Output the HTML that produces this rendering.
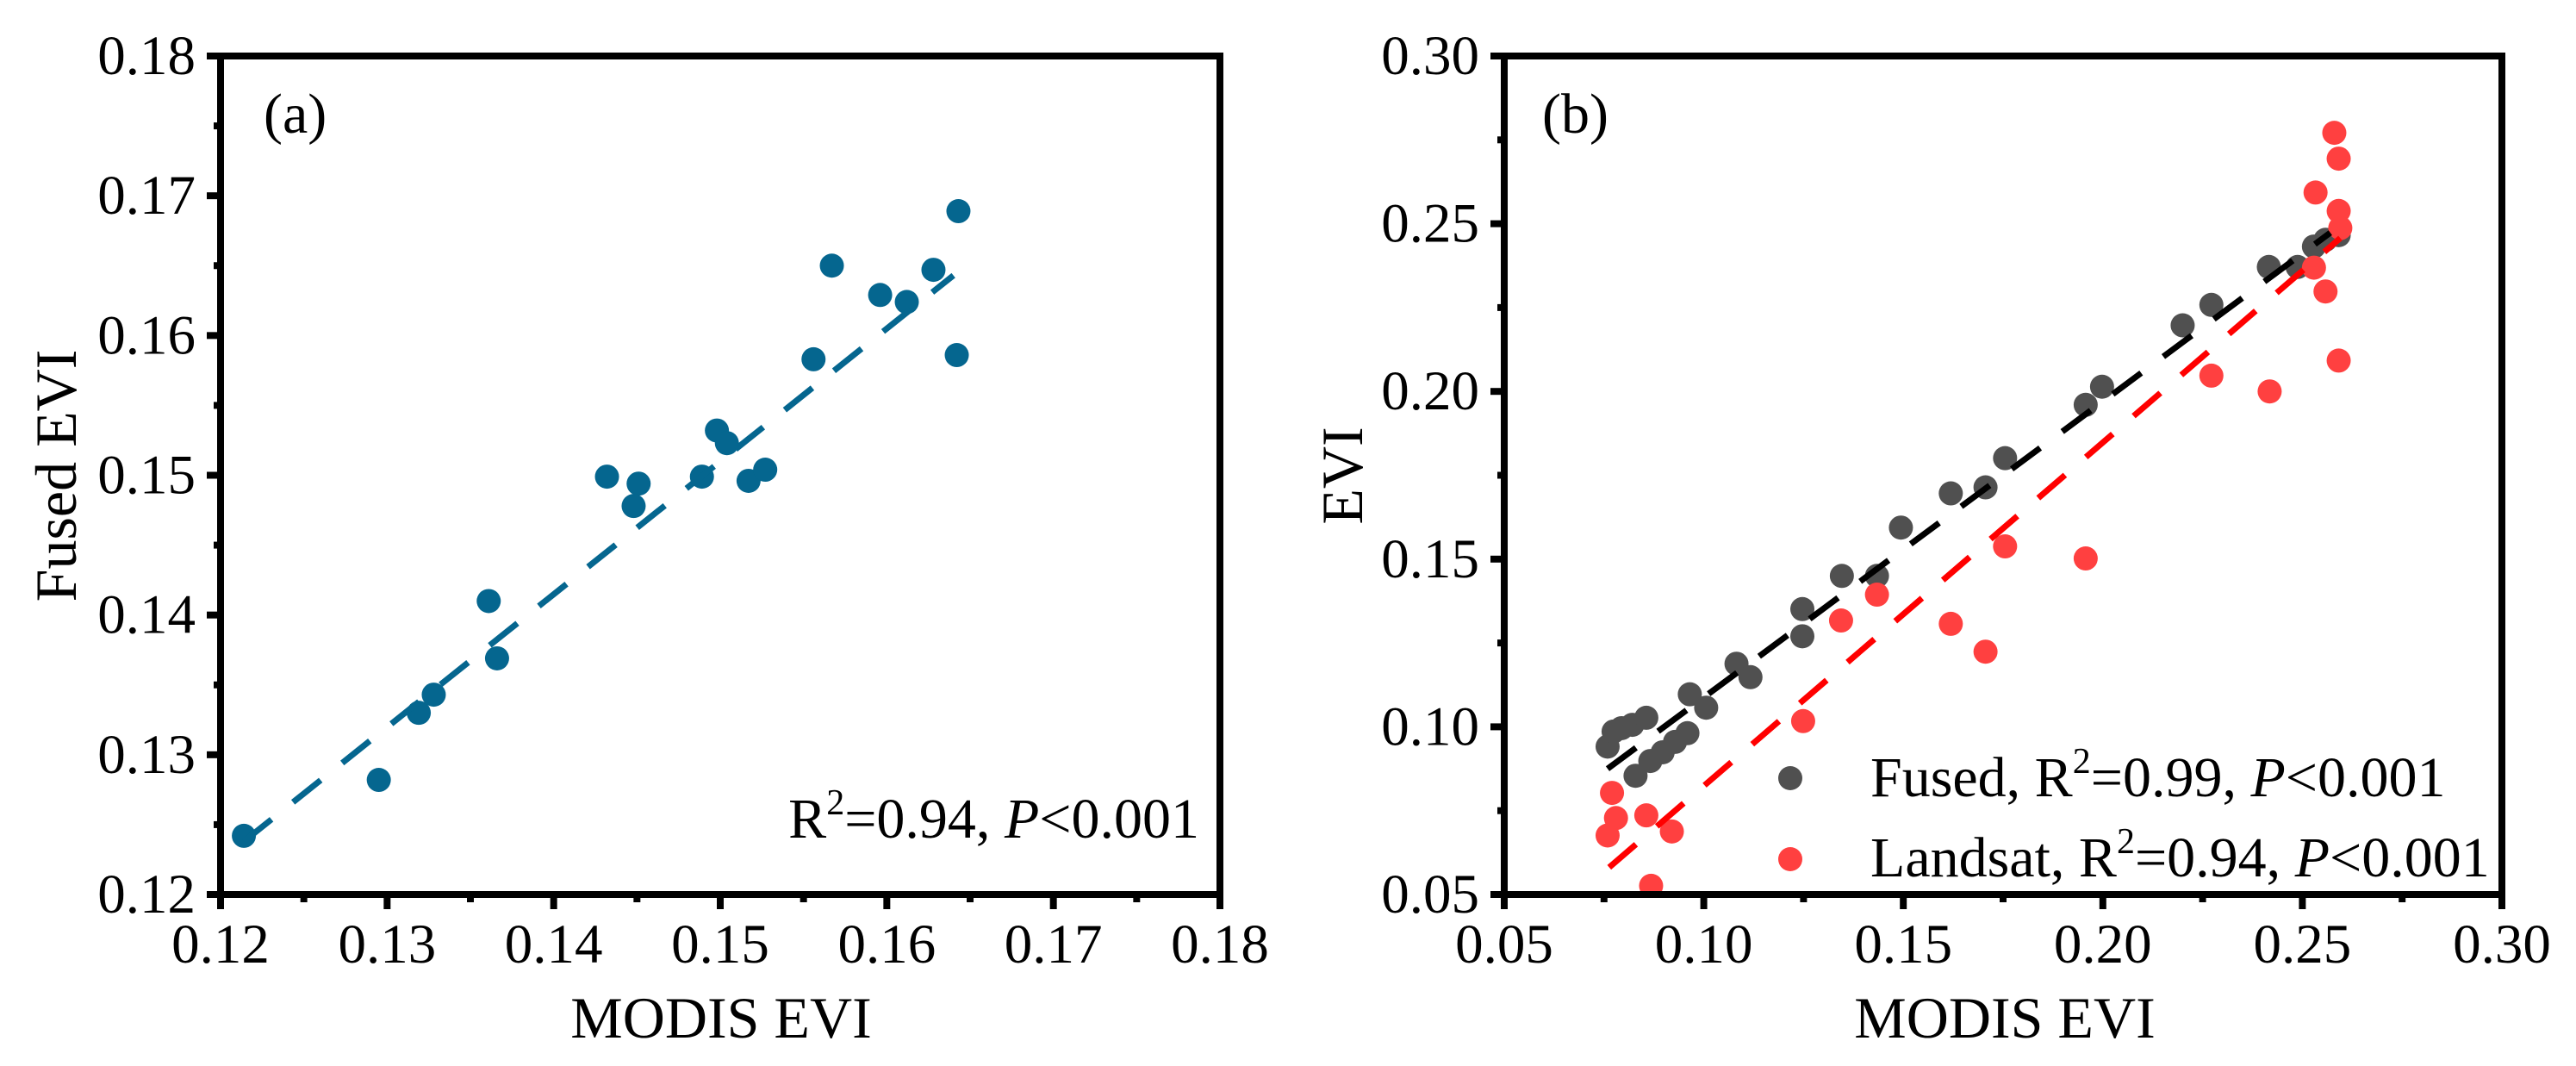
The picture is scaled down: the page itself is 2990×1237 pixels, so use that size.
<!DOCTYPE html>
<html><head><meta charset="utf-8"><style>
html,body{margin:0;padding:0;background:#fff;}
svg{display:block;font-family:"Liberation Serif",serif;}
</style></head><body>
<svg id="chart" width="2990" height="1237" viewBox="0 0 2990 1237">
<g id="pa"></g>
<g id="pb"></g>
</svg>
<script>
// Panel (a) data
const aX = [0.1214,0.1295,0.1319,0.1328,0.1361,0.1366,0.1432,0.1451,0.1448,0.1489,0.1498,0.1504,0.1517,0.1527,0.1556,0.1567,0.1596,0.1612,0.1628,0.1643,0.1642];
const aY = [0.1242,0.1282,0.1330,0.1343,0.1410,0.1369,0.1499,0.1494,0.1478,0.1499,0.1532,0.1523,0.1496,0.1504,0.1583,0.1650,0.1629,0.1624,0.1647,0.1689,0.1586];
const aFitX = [0.1214,0.1640];
const aFitY = [0.1238,0.1643];
const aTicks = ["0.12","0.13","0.14","0.15","0.16","0.17","0.18"];
// Panel (b) data
const fusedX = [0.0759,0.0774,0.0794,0.0821,0.0856,0.0829,0.0866,0.0897,0.0928,0.0959,0.0965,0.1006,0.1082,0.1117,0.1247,0.1247,0.1346,0.1434,0.1494,0.1619,0.1706,0.1755,0.1957,0.1998,0.2200,0.2272,0.2416,0.2488,0.2529,0.2558,0.2591];
const fusedY = [0.0941,0.0986,0.0996,0.1006,0.1027,0.0854,0.0898,0.0924,0.0955,0.0981,0.1097,0.1057,0.1188,0.1148,0.1270,0.1351,0.1450,0.1450,0.1594,0.1696,0.1714,0.1801,0.1960,0.2014,0.2197,0.2258,0.2371,0.2371,0.2432,0.2452,0.2466];
const landX = [0.0759,0.0770,0.0780,0.0856,0.0920,0.0868,0.1249,0.1344,0.1434,0.1619,0.1706,0.1755,0.1957,0.2272,0.2418,0.2529,0.2558,0.2533,0.2580,0.2591,0.2591,0.2595,0.2591];
const landY = [0.0676,0.0803,0.0728,0.0736,0.0688,0.0526,0.1017,0.1317,0.1394,0.1307,0.1224,0.1538,0.1502,0.2047,0.2000,0.2369,0.2298,0.2593,0.2771,0.2694,0.2538,0.2487,0.2092];
const fusedFitX = [0.0759,0.2570];
const fusedFitY = [0.0875,0.2473];
const landFitX = [0.0763,0.2595];
const landFitY = [0.0581,0.2457];
const bTicks = ["0.05","0.10","0.15","0.20","0.25","0.30"];

const NS="http://www.w3.org/2000/svg";
function mk(parent,tag,attrs,text){const e=document.createElementNS(NS,tag);for(const k in attrs)e.setAttribute(k,attrs[k]);if(text!==undefined)e.textContent=text;parent.appendChild(e);return e;}

function panel(g,cfg){
  const L=cfg.L,R=cfg.R,T=65,B=1038;
  const sx=v=>L+(v-cfg.min)/(cfg.max-cfg.min)*(R-L);
  const sy=v=>B-(v-cfg.min)/(cfg.max-cfg.min)*(B-T);
  const n=cfg.ticks.length;
  for(let i=0;i<n;i++){
    const v=parseFloat(cfg.ticks[i]);
    const x=sx(v),y=sy(v);
    let t=mk(g,'line',{x1:x,y1:B,x2:x,y2:B+17,stroke:'#000','stroke-width':8});
    
    
    t=mk(g,'line',{x1:L,y1:y,x2:L-16,y2:y,stroke:'#000','stroke-width':8});
    
    
    let tx=mk(g,'text',{x:x,y:1117,'font-size':65,'text-anchor':'middle'},cfg.ticks[i]);
    
    
    tx=mk(g,'text',{x:L-29,y:y+21,'font-size':65,'text-anchor':'end'},cfg.ticks[i]);
    
    
    if(i<n-1){
      const m=(v+parseFloat(cfg.ticks[i+1]))/2;
      t=mk(g,'line',{x1:sx(m),y1:B,x2:sx(m),y2:B+9,stroke:'#000','stroke-width':8});
      
      
      t=mk(g,'line',{x1:L,y1:sy(m),x2:L-8,y2:sy(m),stroke:'#000','stroke-width':8});
      
      
    }
  }
  for(const s of cfg.series){
    const sg=mk(g,'g',{});
    
    
    for(let i=0;i<s.x.length;i++){
      const c=mk(sg,'circle',{cx:sx(s.x[i]),cy:sy(s.y[i]),r:14,fill:s.color});
      
      
    }
  }
  for(const s of cfg.series){
    const l=mk(g,'line',{x1:sx(s.fx[0]),y1:sy(s.fy[0]),x2:sx(s.fx[1]),y2:sy(s.fy[1]),stroke:s.lc,'stroke-width':7,'stroke-dasharray':'41 32'});
    
    
  }
  const fr=mk(g,'rect',{x:L,y:T,width:R-L,height:B-T,fill:'none',stroke:'#000','stroke-width':8});
  
  
  return {sx,sy};
}

const pa=document.getElementById('pa');
panel(pa,{L:256,R:1416,min:0.12,max:0.18,ticks:aTicks,series:[{name:'fused',x:aX,y:aY,fx:aFitX,fy:aFitY,color:'#05668f',lc:'#05668f'}]});
const pb=document.getElementById('pb');
panel(pb,{L:1746,R:2904,min:0.05,max:0.30,ticks:bTicks,series:[
 {name:'fused',x:fusedX,y:fusedY,fx:fusedFitX,fy:fusedFitY,color:'#505050',lc:'#000'},
 {name:'landsat',x:landX,y:landY,fx:landFitX,fy:landFitY,color:'#ff4040',lc:'#ff0000'}]});
</script>
<script>
const svg=document.getElementById('chart');
svg.insertAdjacentHTML('beforeend',`
<text x="306" y="154" font-size="66">(a)</text>
<text x="1790" y="154" font-size="66">(b)</text>
<text x="1392" y="972" font-size="66" text-anchor="end">R<tspan font-size="42" dy="-27">2</tspan><tspan dy="27">=0.94, </tspan><tspan font-style="italic">P</tspan>&lt;0.001</text>
<text x="837" y="1204" font-size="68" text-anchor="middle">MODIS EVI</text>
<text x="2327" y="1204" font-size="68" text-anchor="middle">MODIS EVI</text>
<text transform="translate(88,552) rotate(-90)" font-size="68" text-anchor="middle">Fused EVI</text>
<text transform="translate(1581,552) rotate(-90)" font-size="68" text-anchor="middle">EVI</text>
<g>
<circle cx="2078" cy="903" r="14" fill="#505050"/>
<text x="2171" y="924" font-size="66">Fused, R<tspan font-size="42" dy="-27">2</tspan><tspan dy="27">=0.99, </tspan><tspan font-style="italic">P</tspan>&lt;0.001</text>
<circle cx="2078" cy="997" r="14" fill="#ff4040"/>
<text x="2171" y="1017" font-size="66">Landsat, R<tspan font-size="42" dy="-27">2</tspan><tspan dy="27">=0.94, </tspan><tspan font-style="italic">P</tspan>&lt;0.001</text>
</g>`);
</script>
</body></html>
